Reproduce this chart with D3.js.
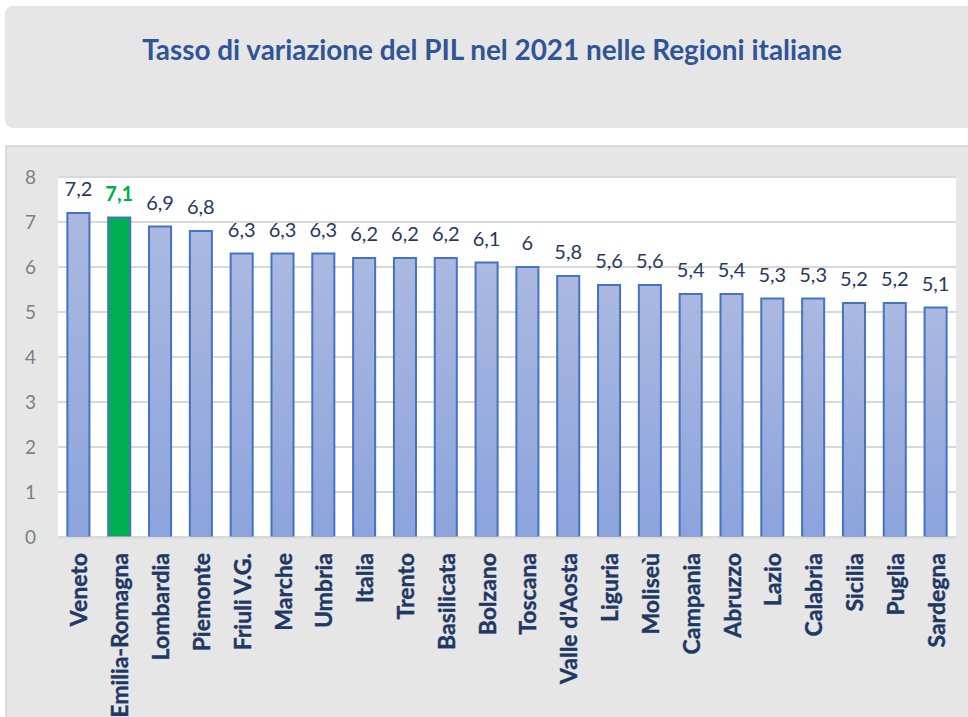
<!DOCTYPE html>
<html><head><meta charset="utf-8">
<script src="https://cdn.jsdelivr.net/npm/d3@7"></script>
<style>body{margin:0;background:#fff}svg{display:block}</style>
</head><body>
<script>
const categories = ["Veneto","Emilia-Romagna","Lombardia","Piemonte","Friuli V.G.","Marche","Umbria","Italia","Trento","Basilicata","Bolzano","Toscana","Valle d'Aosta","Liguria","Moliseù","Campania","Abruzzo","Lazio","Calabria","Sicilia","Puglia","Sardegna"];
const values = [7.2,7.1,6.9,6.8,6.3,6.3,6.3,6.2,6.2,6.2,6.1,6.0,5.8,5.6,5.6,5.4,5.4,5.3,5.3,5.2,5.2,5.1];
const highlight = "Emilia-Romagna";
const yTicks = [0,1,2,3,4,5,6,7,8];
const title = "Tasso di variazione del PIL nel 2021 nelle Regioni italiane";

const W = 968, H = 717;
const svg = d3.select("body").append("svg").attr("width", W).attr("height", H);
const font = "Lato, 'Open Sans', sans-serif";

// title box
svg.append("rect").attr("x",5).attr("y",6).attr("width",975).attr("height",122).attr("rx",8).attr("fill","#e6e6e6");
const t = svg.append("text").attr("x",492).attr("y",60).attr("text-anchor","middle")
  .attr("font-family",font).attr("font-weight","bold").attr("font-size",22)
  .attr("fill","#2f5597").text(title);
const tw = t.node().getComputedTextLength();
t.attr("font-size", 22 * 700 / tw);

// chart panel
svg.append("rect").attr("x",6).attr("y",146).attr("width",970).attr("height",580).attr("fill","#e6e6e6").attr("stroke","#d4d4d4").attr("stroke-width",1.5);

const plot = {x0:58, x1:956, y0:177, y1:537};
svg.append("rect").attr("x",plot.x0).attr("y",plot.y0).attr("width",plot.x1-plot.x0).attr("height",plot.y1-plot.y0).attr("fill","#fff");

const x = d3.scaleBand().domain(categories).range([plot.x0, plot.x1]).paddingInner(0.46).paddingOuter(0.23);
const y = d3.scaleLinear().domain([0,8]).range([plot.y1, plot.y0]);

// gridlines
svg.append("g").selectAll("line").data(yTicks).join("line")
  .attr("x1",plot.x0).attr("x2",plot.x1).attr("y1",d=>y(d)).attr("y2",d=>y(d))
  .attr("stroke","#d9d9d9").attr("stroke-width",2);

// y axis labels
const yAxis = d3.axisLeft(y).tickValues(yTicks).tickSize(0).tickPadding(0).tickFormat(d3.format("d"));
const yg = svg.append("g").attr("transform",`translate(${plot.x0-22},0)`).call(yAxis);
yg.select(".domain").remove();
yg.selectAll("text").attr("font-family",font).attr("font-size",19).attr("fill","#7f7f7f");

// gradient
const defs = svg.append("defs");
const grad = defs.append("linearGradient").attr("id","bg").attr("x1",0).attr("y1",0).attr("x2",0).attr("y2",1);
grad.append("stop").attr("offset","0%").attr("stop-color","#abb9e1");
grad.append("stop").attr("offset","100%").attr("stop-color","#8ca3dc");

// bars
svg.append("g").selectAll("rect").data(categories).join("rect")
  .attr("x",d=>x(d)).attr("width",x.bandwidth())
  .attr("y",(d,i)=>y(values[i])).attr("height",(d,i)=>y(0)-y(values[i]))
  .attr("fill",d=>d===highlight?"#00b050":"url(#bg)")
  .attr("stroke","#4472c4").attr("stroke-width",2);

// value labels
const fmt = v => String(v).replace(".",",");
svg.append("g").selectAll("text").data(categories).join("text")
  .attr("x",d=>x(d)+x.bandwidth()/2).attr("y",(d,i)=>y(values[i])-17)
  .attr("text-anchor","middle").attr("font-family",font).attr("font-size",20)
  .attr("font-weight",d=>d===highlight?"bold":"normal")
  .attr("fill",d=>d===highlight?"#00b050":"#1f3864")
  .text((d,i)=>fmt(values[i]));

// category labels
const xAxis = d3.axisBottom(x).tickSize(0).tickPadding(0);
const xg = svg.append("g").attr("transform",`translate(0,${plot.y1})`).call(xAxis);
xg.select(".domain").attr("stroke","#d9d9d9").attr("stroke-width",2);
xg.selectAll("text")
  .attr("transform","rotate(-90)")
  .attr("x",-16).attr("y",1).attr("dy","0.35em")
  .attr("text-anchor","end")
  .attr("font-family",font).attr("font-weight","bold").attr("font-size",23)
  .attr("fill","#1f3864").attr("stroke","#1f3864").attr("stroke-width",0.4);
</script>
</body></html>
